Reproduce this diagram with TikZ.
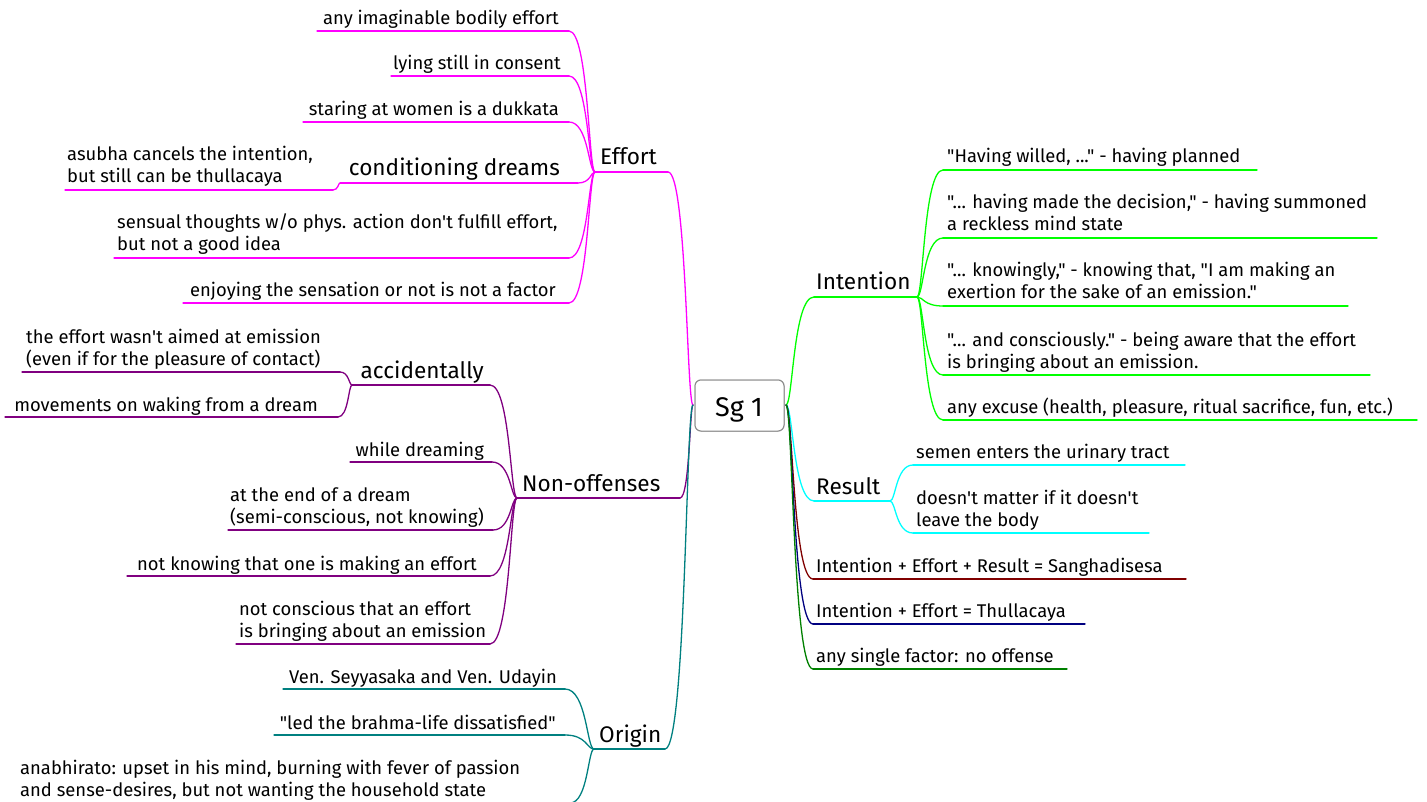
\documentclass[tikz,border=0pt]{standalone}
\usepackage{fontspec}
\setmainfont{Fira Sans}[Ligatures=TeXOff]
\usetikzlibrary{calc}

\definecolor{cEffort}{HTML}{FF00FF}
\definecolor{cIntent}{HTML}{00FF00}
\definecolor{cResult}{HTML}{00FFFF}
\definecolor{cSangha}{HTML}{800000}
\definecolor{cThulla}{HTML}{000080}
\definecolor{cNone}{HTML}{008000}
\definecolor{cNonOff}{HTML}{800080}
\definecolor{cOrigin}{HTML}{008080}

\tikzset{
  txt/.style={inner sep=0pt, font=\fontsize{18.4}{22}\selectfont, align=left},
  big/.style={inner sep=0pt, font=\fontsize{22.6}{27}\selectfont},
  edge/.style={line width=1.3pt, line cap=round, line join=round},
  rootbox/.style={draw=black!45, line width=1pt, rounded corners=6pt, fill=white,
    minimum width=89pt, minimum height=51pt, inner sep=0pt, font=\fontsize{27}{32}\selectfont},
}

% S-shaped mind-map connector from parent point #2 to child point #3
\newcommand\mmlink[3]{%
  \draw[edge,#1] let \p1=(#2), \p2=(#3) in
    (\p1) .. controls ({\x1+0.25*(\x2-\x1)},\y1) and ({\x1+0.25*(\x2-\x1)},\y2) .. (\p2);}
% underline below a node, between two named ends
\newcommand\uline[3]{\draw[edge,#1] (#2) -- (#3);}

\begin{document}
\begin{tikzpicture}[x=1pt,y=-1pt]
\useasboundingbox (0,0) rectangle (1427,802);
\clip (0,0) rectangle (1427,802);

% ---------- root ----------
\node[rootbox] (root) at (739.5,405.5) {};
\coordinate (rootL) at (693,405);
\coordinate (rootR) at (786,405);

% ---------- Effort ----------
\node[big, anchor=base west] (effort) at (600,165) {Effort};
\coordinate (effL) at (595,172); \coordinate (effR) at (668,172);
\mmlink{cEffort}{rootL}{effR} \uline{cEffort}{effR}{effL}

\node[txt, anchor=base east] (e1) at (559,25) {any imaginable bodily effort};
\coordinate (e1R) at (569,31); \coordinate (e1L) at (317,31);
\node[txt, anchor=base east] (e2) at (561,70) {lying still in consent};
\coordinate (e2R) at (569,76); \coordinate (e2L) at (391,76);
\node[txt, anchor=base east] (e3) at (559,116) {staring at women is a dukkata};
\coordinate (e3R) at (569,122); \coordinate (e3L) at (303,122);
\node[big, anchor=base east] (e4) at (560,176) {conditioning dreams};
\coordinate (e4R) at (578,183); \coordinate (e4L) at (340,183);
\node[txt, anchor=base west] (e4a) at (67,183) {asubha cancels the intention,\\but still can be thullacaya};
\coordinate (e4aR) at (333,190); \coordinate (e4aL) at (65,190);
\node[txt, anchor=base west] (e5) at (117,251) {sensual thoughts w/o phys. action don't fulfill effort,\\but not a good idea};
\coordinate (e5R) at (569,258); \coordinate (e5L) at (114,258);
\node[txt, anchor=base east] (e6) at (556,297) {enjoying the sensation or not is not a factor};
\coordinate (e6R) at (569,303); \coordinate (e6L) at (183,303);

\foreach \c in {e1,e2,e3,e4,e5,e6}{\mmlink{cEffort}{effL}{\c R} \uline{cEffort}{\c R}{\c L}}
\mmlink{cEffort}{e4L}{e4aR} \uline{cEffort}{e4aR}{e4aL}

% ---------- Non-offenses ----------
\node[big, anchor=base west] (nonoff) at (522,491) {Non-offenses};
\coordinate (nonL) at (517,498); \coordinate (nonR) at (680,498);
\mmlink{cNonOff}{rootL}{nonR} \uline{cNonOff}{nonR}{nonL}

\node[big, anchor=base east] (n1) at (484,378) {accidentally};
\coordinate (n1R) at (490,385); \coordinate (n1L) at (352,385);
\node[txt, anchor=base west] (n1a) at (26,365) {the effort wasn't aimed at emission\\(even if for the pleasure of contact)};
\coordinate (n1aR) at (340,372); \coordinate (n1aL) at (22,372);
\node[txt, anchor=base east] (n1b) at (318,411) {movements on waking from a dream};
\coordinate (n1bR) at (338,417); \coordinate (n1bL) at (5,417);
\node[txt, anchor=base east] (n2) at (484,456) {while dreaming};
\coordinate (n2R) at (492,462); \coordinate (n2L) at (350,462);
\node[txt, anchor=base west] (n3) at (230,523) {at the end of a dream\\(semi-conscious, not knowing)};
\coordinate (n3R) at (493,530); \coordinate (n3L) at (228,530);
\node[txt, anchor=base east] (n4) at (477,570) {not knowing that one is making an effort};
\coordinate (n4R) at (490,576); \coordinate (n4L) at (127,576);
\node[txt, anchor=base west] (n5) at (239,637) {not conscious that an effort\\is bringing about an emission};
\coordinate (n5R) at (490,644); \coordinate (n5L) at (236,644);

\foreach \c in {n1,n2,n3,n4,n5}{\mmlink{cNonOff}{nonL}{\c R} \uline{cNonOff}{\c R}{\c L}}
\foreach \c in {n1a,n1b}{\mmlink{cNonOff}{n1L}{\c R} \uline{cNonOff}{\c R}{\c L}}

% ---------- Origin ----------
\node[big, anchor=base west] (origin) at (599,742) {Origin};
\coordinate (oriL) at (594,749); \coordinate (oriR) at (665,749);
\mmlink{cOrigin}{rootL}{oriR} \uline{cOrigin}{oriR}{oriL}

\node[txt, anchor=base east] (o1) at (557,683) {Ven. Seyyasaka and Ven. Udayin};
\coordinate (o1R) at (565,689); \coordinate (o1L) at (283,689);
\node[txt, anchor=base east] (o2) at (556,729) {"led the brahma-life dissatisfied"};
\coordinate (o2R) at (565,735); \coordinate (o2L) at (274,735);
\node[txt, anchor=base west] (o3) at (20,796) {anabhirato: upset in his mind, burning with fever of passion\\and sense-desires, but not wanting the household state};
\coordinate (o3R) at (570,803); \coordinate (o3L) at (18,803);

\foreach \c in {o1,o2,o3}{\mmlink{cOrigin}{oriL}{\c R} \uline{cOrigin}{\c R}{\c L}}

% ---------- Intention ----------
\node[big, anchor=base west] (intent) at (816,290) {Intention};
\coordinate (intL) at (814,297); \coordinate (intR) at (917,297);
\mmlink{cIntent}{rootR}{intL} \uline{cIntent}{intL}{intR}

\node[txt, anchor=base west] (i1) at (947,163) {"Having willed, ..." - having planned};
\coordinate (i1L) at (943,170); \coordinate (i1R) at (1257,170);
\node[txt, anchor=base west] (i2) at (947,231) {"... having made the decision," - having summoned\\a reckless mind state};
\coordinate (i2L) at (943,238); \coordinate (i2R) at (1377,238);
\node[txt, anchor=base west] (i3) at (947,299) {"... knowingly," - knowing that, "I am making an\\exertion for the sake of an emission."};
\coordinate (i3L) at (943,306); \coordinate (i3R) at (1348,306);
\node[txt, anchor=base west] (i4) at (947,368) {"... and consciously." - being aware that the effort\\is bringing about an emission.};
\coordinate (i4L) at (943,375); \coordinate (i4R) at (1370,375);
\node[txt, anchor=base west] (i5) at (947,413) {any excuse (health, pleasure, ritual sacrifice, fun, etc.)};
\coordinate (i5L) at (943,420); \coordinate (i5R) at (1417,420);

\foreach \c in {i1,i2,i3,i4,i5}{\mmlink{cIntent}{intR}{\c L} \uline{cIntent}{\c L}{\c R}}

% ---------- Result ----------
\node[big, anchor=base west] (result) at (816,494) {Result};
\coordinate (resL) at (814,501); \coordinate (resR) at (890,501);
\mmlink{cResult}{rootR}{resL} \uline{cResult}{resL}{resR}

\node[txt, anchor=base west] (r1) at (916,458) {semen enters the urinary tract};
\coordinate (r1L) at (913,465); \coordinate (r1R) at (1185,465);
\node[txt, anchor=base west] (r2) at (916,526) {doesn't matter if it doesn't\\leave the body};
\coordinate (r2L) at (913,533); \coordinate (r2R) at (1149,533);

\foreach \c in {r1,r2}{\mmlink{cResult}{resR}{\c L} \uline{cResult}{\c L}{\c R}}

% ---------- verdicts ----------
\node[txt, anchor=base west] (s1) at (816,572) {Intention + Effort + Result = Sanghadisesa};
\coordinate (s1L) at (813,579); \coordinate (s1R) at (1186,579);
\mmlink{cSangha}{rootR}{s1L} \uline{cSangha}{s1L}{s1R}

\node[txt, anchor=base west] (s2) at (816,617) {Intention + Effort = Thullacaya};
\coordinate (s2L) at (813,624); \coordinate (s2R) at (1085,624);
\mmlink{cThulla}{rootR}{s2L} \uline{cThulla}{s2L}{s2R}

\node[txt, anchor=base west] (s3) at (816,662) {any single factor: no offense};
\coordinate (s3L) at (813,669); \coordinate (s3R) at (1067,669);
\mmlink{cNone}{rootR}{s3L} \uline{cNone}{s3L}{s3R}

% root box drawn last so connector ends tuck under its border
\node[rootbox] at (root) {};
\node[inner sep=0pt, anchor=base, font=\fontsize{27}{32}\selectfont] (rootlabel) at (739,416) {Sg 1};
\end{tikzpicture}
\end{document}
